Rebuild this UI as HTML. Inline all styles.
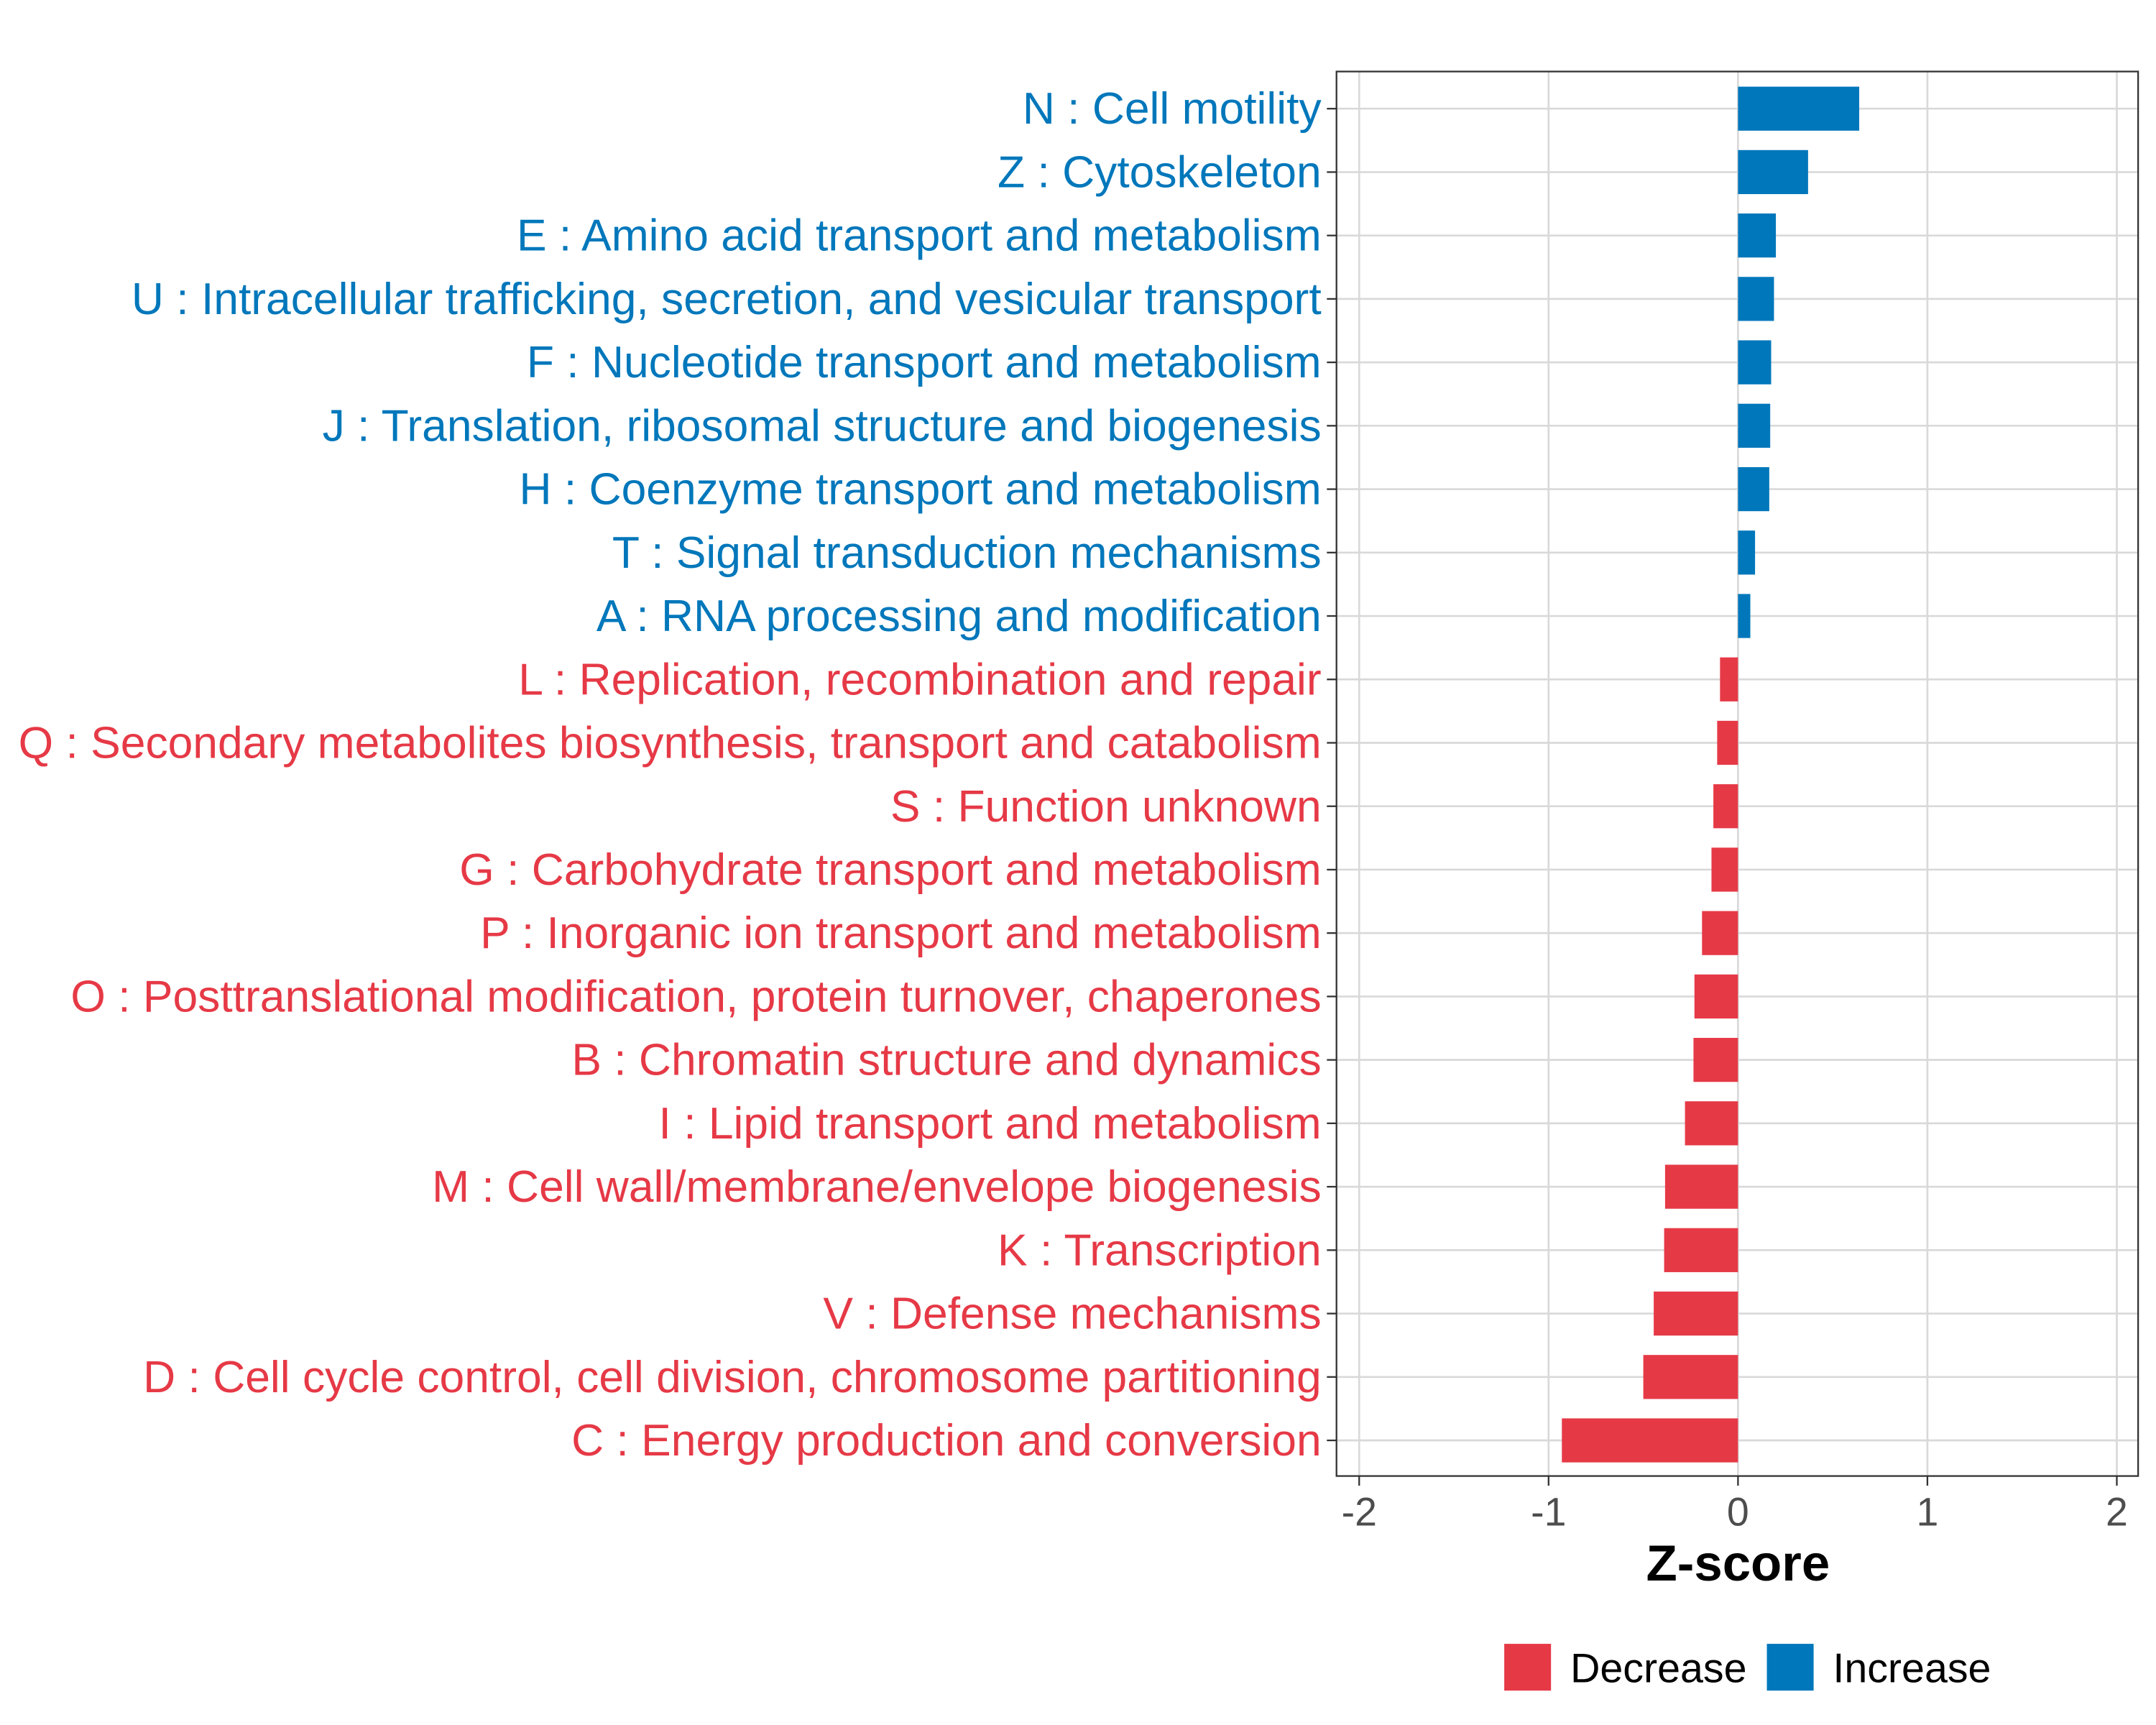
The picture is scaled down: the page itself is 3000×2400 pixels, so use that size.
<!DOCTYPE html>
<html><head><meta charset="utf-8">
<style>
html,body{margin:0;padding:0;background:#fff;}
svg{display:block;font-family:"Liberation Sans",sans-serif;}
</style></head>
<body>
<svg id="chart" width="3000" height="2400" viewBox="0 0 1568 1254" preserveAspectRatio="none" xmlns="http://www.w3.org/2000/svg">
<rect x="0" y="0" width="1568" height="1254" fill="#fff"/>
<g id="grid"></g>
<g id="bars"></g>
<rect x="972" y="52" width="583" height="1021" fill="none" stroke="#333" stroke-width="1.2"/>
<g id="yaxis"></g>
<g id="xaxis"></g>
<text x="1264" y="1149" text-anchor="middle" font-size="37" font-weight="bold" fill="#000">Z-score</text>
<g>
<rect x="1094" y="1195" width="34" height="34" fill="#E63946"/>
<text x="1142" y="1223" font-size="30" fill="#000">Decrease</text>
<rect x="1285" y="1195" width="34" height="34" fill="#0077BB"/>
<text x="1333" y="1223" font-size="30" fill="#000">Increase</text>
</g>
</svg>
<script>
const categories = [
"N : Cell motility","Z : Cytoskeleton","E : Amino acid transport and metabolism",
"U : Intracellular trafficking, secretion, and vesicular transport","F : Nucleotide transport and metabolism",
"J : Translation, ribosomal structure and biogenesis","H : Coenzyme transport and metabolism",
"T : Signal transduction mechanisms","A : RNA processing and modification",
"L : Replication, recombination and repair","Q : Secondary metabolites biosynthesis, transport and catabolism",
"S : Function unknown","G : Carbohydrate transport and metabolism","P : Inorganic ion transport and metabolism",
"O : Posttranslational modification, protein turnover, chaperones","B : Chromatin structure and dynamics",
"I : Lipid transport and metabolism","M : Cell wall/membrane/envelope biogenesis","K : Transcription",
"V : Defense mechanisms","D : Cell cycle control, cell division, chromosome partitioning","C : Energy production and conversion"];
const zscores = [0.64,0.37,0.2,0.19,0.175,0.17,0.165,0.09,0.065,-0.095,-0.11,-0.13,-0.14,-0.19,-0.23,-0.235,-0.28,-0.385,-0.39,-0.445,-0.5,-0.93];
const xTicks = [-2,-1,0,1,2];
const xTickLabels = ["-2","-1","0","1","2"];

const NS="http://www.w3.org/2000/svg";
const X0=1264, XU=137.75, Y0=79, YS=46.1, BH=32;
const xs=v=>X0+v*XU;
const ys=i=>Y0+i*YS;
function mk(tag,attrs,parent){const e=document.createElementNS(NS,tag);for(const k in attrs)e.setAttribute(k,attrs[k]);parent.appendChild(e);return e;}
const grid=document.getElementById('grid'),bars=document.getElementById('bars'),yax=document.getElementById('yaxis'),xax=document.getElementById('xaxis');
xTicks.forEach((t,i)=>{
  const g=mk('line',{x1:xs(t),x2:xs(t),y1:52,y2:1073,stroke:'#d9d9d9','stroke-width':1.4},grid);
  
  
  const tk=mk('line',{x1:xs(t),x2:xs(t),y1:1073,y2:1080,stroke:'#333','stroke-width':1.2},xax);
  
  
  const tl=mk('text',{x:xs(t),y:1109,'text-anchor':'middle','font-size':29,fill:'#4d4d4d'},xax);
  tl.textContent=xTickLabels[i];
  
  
});
categories.forEach((c,i)=>{
  const y=ys(i), v=zscores[i], col=v>=0?'#0077BB':'#E63946';
  const g=mk('line',{x1:972,x2:1555,y1:y,y2:y,stroke:'#d9d9d9','stroke-width':1.4},grid);
  
  
  const b=mk('rect',{x:Math.min(xs(0),xs(v)),y:y-BH/2,width:Math.abs(xs(v)-xs(0)),height:BH,fill:col},bars);
  
  
  const tk=mk('line',{x1:965,x2:972,y1:y,y2:y,stroke:'#333','stroke-width':1.2},yax);
  
  
  const tl=mk('text',{x:961,y:y+11,'text-anchor':'end','font-size':32.6,fill:col},yax);
  tl.textContent=c;
  
  
});
</script>
</body></html>
